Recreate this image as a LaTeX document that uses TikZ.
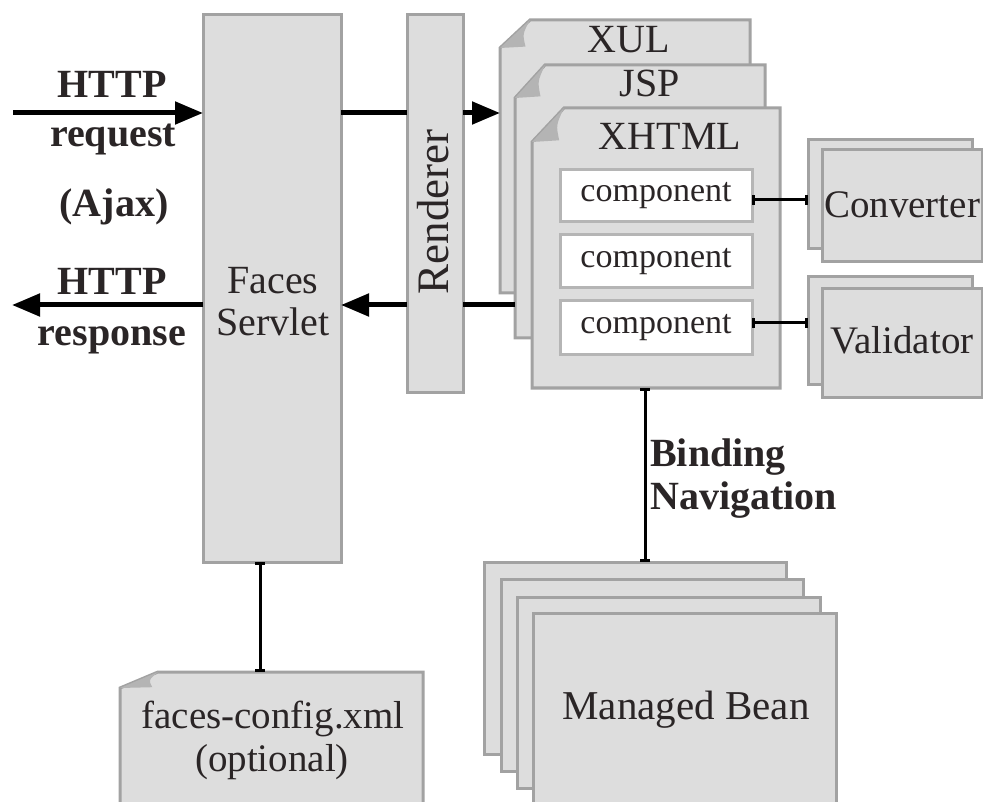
\documentclass[tikz,border=0pt]{standalone}
\usepackage{fontspec}
\setmainfont{Liberation Serif}
\usetikzlibrary{arrows.meta,calc,fit}
\definecolor{boxfill}{HTML}{DDDDDD}
\definecolor{boxline}{HTML}{A2A2A2}
\definecolor{foldfill}{HTML}{B4B4B4}
\definecolor{txt}{HTML}{2A2526}
\newcommand\pageshape[3]{%
  \draw[pagestyle] ($(#1.north west)+(0pt,-#3)$) -- ($(#1.north west)+(#2,0pt)$) -- (#1.north east) -- (#1.south east) -- (#1.south west) -- cycle;
  \fill[foldfill] ($(#1.north west)+(0pt,-#3)$) -- ($(#1.north west)+(#2,0pt)$) .. controls ($(#1.north west)+(0.75*#2,-0.5*#3)$) .. ($(#1.north west)+(0.85*#2,-0.95*#3)$) -- cycle;
}
\tikzset{
  box/.style={draw=boxline, fill=boxfill, line width=3pt, inner sep=0pt, outer sep=0pt, rectangle},
  frame/.style={draw=none, inner sep=0pt, outer sep=0pt, rectangle},
  pagestyle/.style={draw=boxline, fill=boxfill, line width=3pt, line join=miter},
  comp/.style={draw=boxline!80, fill=white, line width=3pt, inner sep=0pt, outer sep=0pt, rectangle, font=\fontsize{34}{38}\selectfont, text=txt},
  txtn/.style={font=\fontsize{40}{44}\selectfont, text=txt, inner sep=0pt, align=center},
  lbl/.style={font=\bfseries\fontsize{40}{44}\selectfont, text=txt, inner sep=0pt},
  flow/.style={line width=5pt, draw=black, -{Triangle[length=28pt,width=22pt]}},
  plain/.style={line width=5pt, draw=black},
  link/.style={line width=3pt, draw=black, {Bar[width=10pt,line width=3pt]}-{Bar[width=10pt,line width=3pt]}},
}
\begin{document}
\begin{tikzpicture}[x=1pt,y=-1pt]
\useasboundingbox (0,0) rectangle (983,802);
\clip (0,0) rectangle (983,802);
\fill[white] (0,0) rectangle (983,802);

% Faces servlet and renderer
\node[box, fit={(203,15) (341,562)}] (servlet) {};
\node[txtn] (servlettext) at (273,302) {Faces\\[-2pt]Servlet};
\node[box, fit={(407,15) (463,392)}] (renderer) {};
\node[txtn, rotate=90, font=\fontsize{45}{48}\selectfont] (renderertext) at (433,212) {Renderer};

% pages
\node[frame, fit={(500,20) (750,293)}] (xul) {};
\pageshape{xul}{30pt}{28pt}
\node[txtn, anchor=base] (xultext) at (629,53) {XUL};
\node[frame, fit={(515,65) (765,338)}] (jsp) {};
\pageshape{jsp}{30pt}{33pt}
\node[txtn, anchor=base] (jsptext) at (650,97) {JSP};
\node[frame, fit={(532,108) (780,388)}] (xhtml) {};
\pageshape{xhtml}{32pt}{34pt}
\node[txtn, anchor=base] (xhtmltext) at (670,150) {XHTML};

% components
\node[comp, fit={(560,170) (752,222)}] (c1) {};
\node[comp, draw=none] at (c1.center) {component};
\node[comp, fit={(560,235) (752,288)}] (c2) {};
\node[comp, draw=none] at (c2.center) {component};
\node[comp, fit={(560,301) (752,355)}] (c3) {};
\node[comp, draw=none] at (c3.center) {component};

% converter / validator
\node[box, fit={(808,140) (972,249)}] (convb) {};
\node[box, fit={(822,150) (982,262)}] (conv) {};
\node[txtn, font=\fontsize{39}{42}\selectfont] (convtext) at (902,205) {Converter};
\node[box, fit={(808,277) (972,385)}] (valb) {};
\node[box, fit={(822,289) (982,397)}] (val) {};
\node[txtn, font=\fontsize{39}{42}\selectfont] (valtext) at (902,340) {Validator};

% managed beans
\node[box, fit={(484,562) (786,754)}] (bean1) {};
\node[box, fit={(501,579) (803,771)}] (bean2) {};
\node[box, fit={(517,597) (820,788)}] (bean3) {};
\node[box, fit={(533,613) (836,820)}] (bean4) {};
\node[txtn, font=\fontsize{41}{44}\selectfont] (beantext) at (686,710) {Managed Bean};

% faces-config
\node[frame, fit={(120,672) (423,830)}] (fc) {};
\pageshape{fc}{38pt}{16pt}
\node[txtn, anchor=base, font=\fontsize{39}{44}\selectfont] (fctext1) at (273,728) {faces-config.xml};
\node[txtn, anchor=base, font=\fontsize{39}{44}\selectfont] (fctext2) at (272,771) {(optional)};

% left labels
\coordinate (reqstart) at (13,113);
\coordinate (resend) at (12,305);
\node[lbl, anchor=base] (h1) at (112,98) {HTTP};
\node[lbl, anchor=base] (req) at (113,147) {request};
\node[lbl, anchor=base] (ajax) at (114,217) {(Ajax)};
\node[lbl, anchor=base] (h2) at (112,295) {HTTP};
\node[lbl, anchor=base] (resp) at (112,346) {response};
\node[lbl, anchor=base west] (bind) at (650,466) {Binding};
\node[lbl, anchor=base west] (nav) at (650,509) {Navigation};

% arrows
\draw[flow] (reqstart) -- (reqstart -| servlet.west);
\draw[flow] (resend -| servlet.west) -- (resend);
\draw[plain] (reqstart -| servlet.east) -- (reqstart -| renderer.west);
\draw[flow] (reqstart -| renderer.east) -- (reqstart -| xul.west);
\draw[plain] (resend -| jsp.west) -- (resend -| renderer.east);
\draw[flow] (resend -| renderer.west) -- (resend -| servlet.east);

% links
\coordinate (cy) at (0,200);
\coordinate (vy) at (0,323);
\coordinate (bx) at (645,0);
\coordinate (fx) at (260,0);
\draw[link] (c1.east |- cy) -- (cy -| convb.west);
\draw[link] (c3.east |- vy) -- (vy -| valb.west);
\draw[link] (xhtml.south -| bx) -- (bean1.north -| bx);
\draw[link] (servlet.south -| fx) -- (fc.north -| fx);
\end{tikzpicture}
\end{document}
